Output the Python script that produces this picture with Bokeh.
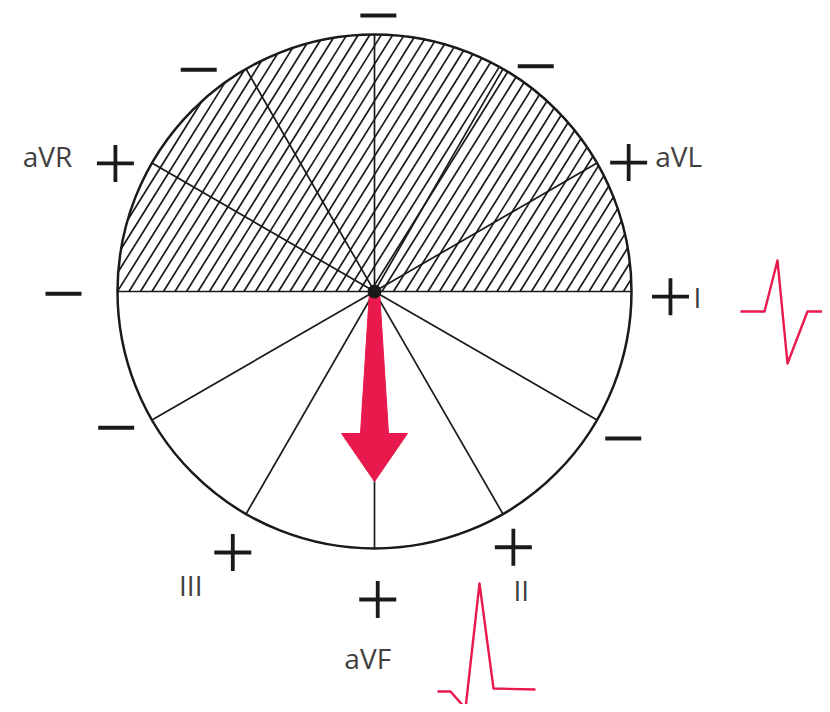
import numpy as np
from bokeh.plotting import figure
from bokeh.models import Range1d
from bokeh.embed import file_html
from bokeh.resources import INLINE
from bokeh.core.properties import value

# ---------------- data ----------------
leads = ["I", "II", "III", "aVR", "aVL", "aVF"]
lead_angles = [0, 60, 120, -150, -30, 90]   # degrees, ECG convention (clockwise from lead I)
qrs_axis = 90                               # mean electrical axis (arrow)

ecg_I_t = [0, 24, 37, 47, 67, 85]
ecg_I_v = [0, 0, 51, -52, 0, 0]
ecg_aVF_t = [0, 13, 28, 42, 56, 98]
ecg_aVF_v = [0, 0, -17, 108, 3, 2]

# ---------------- layout ----------------
W, H = 822, 704
CX, CY, R = 374, 421, 257
plus_r = [296, 291, 297, 289, 285, 308]
plus_dt = [1, 1.5, -1.5, -3.7, 3.1, -0.6]
minus_r = [311, 283, 277, 289, 292, 276]
minus_dt = [-0.4, -8.4, 5.6, 0.6, 2.2, 0.8]
label_dx = [27, 8, -42, -68, 50, -10]
label_dy = [0, -43, -32, 7, 7, -59]
ecg_I_origin = (740, 401)
ecg_aVF_origin = (437, 21)
HATCH_ANGLE = 58.0
HATCH_STEP = 11.5
RED = "#e8194c"
INK = "#1a1a1a"


def polar(r, deg):
    a = np.radians(deg)
    return CX + r * np.cos(a), CY - r * np.sin(a)


p = figure(width=W, height=H, output_backend="svg", toolbar_location=None,
           x_range=Range1d(0, W), y_range=Range1d(712 - H, 712),
           min_border=0)
p.axis.visible = False
p.grid.visible = False
p.outline_line_color = None
p.background_fill_color = "white"

# hatch of the upper half (lines clipped to the half disc)
c, s = np.cos(np.radians(HATCH_ANGLE)), np.sin(np.radians(HATCH_ANGLE))
hx0, hy0, hx1, hy1 = [], [], [], []
xk = -R / s
while xk < R:
    disc = R * R - xk * xk * s * s
    if disc > 0:
        t_hi = -xk * c + np.sqrt(disc)
        t_lo = max(0.0, -xk * c - np.sqrt(disc))
        if t_hi > t_lo:
            hx0.append(CX + xk + t_lo * c); hy0.append(CY + t_lo * s)
            hx1.append(CX + xk + t_hi * c); hy1.append(CY + t_hi * s)
    xk += HATCH_STEP
p.segment(x0=hx0, y0=hy0, x1=hx1, y1=hy1, line_color=INK, line_width=1.7)

# diameters
x0, y0, x1, y1 = [], [], [], []
for a in lead_angles:
    xa, ya = polar(R, a)
    xb, yb = polar(R, a + 180)
    x0.append(xa); y0.append(ya); x1.append(xb); y1.append(yb)
p.segment(x0=x0, y0=y0, x1=x1, y1=y1, line_color=INK, line_width=1.7)

# outer circle
p.circle(x=CX, y=CY, radius=R, fill_color=None, line_color=INK, line_width=2.5)

# arrow (mean axis)
prof_along = [0, 142, 142, 190, 142, 142, 0]
prof_across = [-5, -14, -33, 0, 33, 14, 5]
a = np.radians(qrs_axis)
d = np.array([np.cos(a), -np.sin(a)])
n = np.array([np.sin(a), np.cos(a)])
ax = [CX + sa * d[0] + t * n[0] for sa, t in zip(prof_along, prof_across)]
ay = [CY + sa * d[1] + t * n[1] for sa, t in zip(prof_along, prof_across)]
p.patch(ax, ay, fill_color=RED, line_color=RED, line_width=1)

# centre dot
p.scatter(x=[CX], y=[CY], size=13, marker="circle", fill_color=INK, line_color=INK)

# pole signs
px, py, mx, my = [], [], [], []
for i, a in enumerate(lead_angles):
    xx, yy = polar(plus_r[i], a + plus_dt[i])
    px.append(xx); py.append(yy)
    xx, yy = polar(minus_r[i], a + 180 + minus_dt[i])
    mx.append(xx); my.append(yy)
p.scatter(x=px, y=py, marker="cross", size=37, line_color=INK, line_width=3.8)
p.scatter(x=mx, y=my, marker="dash", size=36, line_color=INK, line_width=4)

# lead labels
lx = [px[i] + label_dx[i] for i in range(len(leads))]
ly = [py[i] + label_dy[i] for i in range(len(leads))]
p.text(x=lx, y=ly, text=leads, text_font=value("Open Sans"), text_font_size="28px",
       text_color="#404040", text_align="center", text_baseline="middle")

# ECG traces
p.line([ecg_I_origin[0] + t for t in ecg_I_t], [ecg_I_origin[1] + v for v in ecg_I_v],
       line_color=RED, line_width=2.4, line_join="round")
p.line([ecg_aVF_origin[0] + t for t in ecg_aVF_t], [ecg_aVF_origin[1] + v for v in ecg_aVF_v],
       line_color=RED, line_width=2.4, line_join="round")

open("out.html", "w").write(file_html(p, INLINE))
